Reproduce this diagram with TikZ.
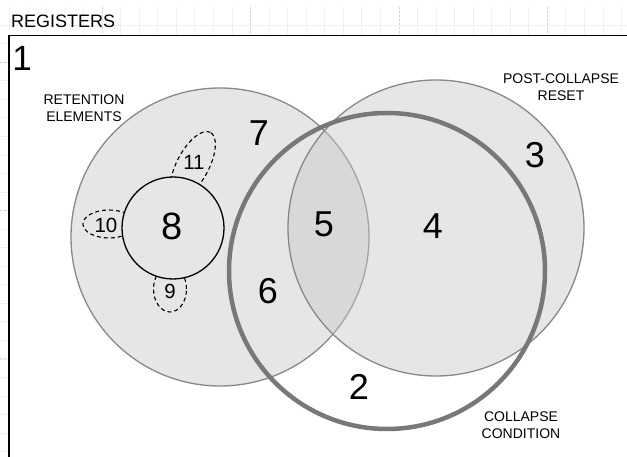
\documentclass[tikz,border=0pt]{standalone}
\usepackage{fontspec}
\setmainfont{Liberation Sans}
\usetikzlibrary{shapes.geometric}
\definecolor{setfill}{RGB}{200,200,200}
\definecolor{setedge}{RGB}{136,136,136}
\definecolor{condedge}{RGB}{120,120,120}
\definecolor{corefill}{RGB}{230,230,230}
\definecolor{gridminor}{RGB}{240,240,240}
\definecolor{gridmajor}{RGB}{212,212,212}
\tikzset{
  setcircle/.style={circle, inner sep=0pt, draw=setedge, line width=1.3pt,
    fill=setfill, fill opacity=0.45, draw opacity=1},
  condcircle/.style={circle, inner sep=0pt, draw=condedge, line width=4.5pt},
  corecircle/.style={circle, inner sep=0pt, draw=black, line width=1.3pt, fill=corefill},
  element/.style={ellipse, inner sep=0pt, draw=black, line width=1.1pt,
    dash pattern=on 4pt off 3pt},
  region/.style={font=\fontsize{36}{40}\selectfont, inner sep=0pt},
  subregion/.style={font=\fontsize{20.5}{23}\selectfont, inner sep=0pt},
  caption/.style={font=\fontsize{14}{16.5}\selectfont, align=center, inner sep=0pt},
}
\begin{document}
\begin{tikzpicture}[x=1pt, y=1pt]
  \useasboundingbox (0,0) rectangle (627,457);
  \clip (0,0) rectangle (627,457);

  % sheet grid
  \foreach \k in {-5,...,28}
    \draw[gridminor, line width=0.6pt] ({102+18.55*\k},0) -- ({102+18.55*\k},450);
  \foreach \k in {0,...,24}
    \draw[gridminor, line width=0.6pt] (0,{432-18.55*\k}) -- (627,{432-18.55*\k});
  \foreach \k in {0,...,3}
    \draw[gridmajor, line width=0.6pt, dash pattern=on 2pt off 2pt]
      ({102+148.4*\k},0) -- ({102+148.4*\k},450);
  \foreach \k in {0,...,2}
    \draw[gridmajor, line width=0.6pt, dash pattern=on 2pt off 2pt]
      (0,{395-148.4*\k}) -- (627,{395-148.4*\k});

  % register frame
  \node[draw=black, line width=1.5pt, fill=white, inner sep=0pt, anchor=north west,
        minimum width=640pt, minimum height=440pt] (frame) at (8,422) {};
  \node[anchor=west, font=\fontsize{18}{20}\selectfont, inner sep=0pt] (registers) at (11,436) {REGISTERS};
  \node[font=\fontsize{35}{40}\selectfont, inner sep=0pt] (r1) at (22,399) {1};

  % the two filled sets
  \node[setcircle, minimum size=298pt] (retention) at (220,220) {};
  \node[setcircle, minimum size=296pt] (reset) at (436,229) {};

  % retention elements around the core
  \node[element, minimum width=74pt, minimum height=32pt, rotate=62] (e11) at (193,292) {};
  \node[element, minimum width=52pt, minimum height=28pt] (e10) at (109,233) {};
  \node[element, minimum width=33pt, minimum height=46pt] (e9) at (170,168) {};
  \node[corecircle, minimum size=102pt] (core) at (173,229) {};

  % collapse condition
  \node[condcircle, minimum size=316pt] (condition) at (387,186) {};

  % region numbers
  \node[region] (r7) at (259,324) {7};
  \node[region] (r3) at (535,302) {3};
  \node[region] (r5) at (324,233) {5};
  \node[region] (r4) at (433,231) {4};
  \node[region] (r6) at (268,166) {6};
  \node[region] (r2) at (359,70) {2};
  \node[region, font=\fontsize{38}{42}\selectfont] (r8) at (172,231) {8};
  \node[subregion] (r11) at (194,295) {11};
  \node[subregion] (r10) at (106,232) {10};
  \node[subregion] (r9) at (170,166) {9};

  % set captions
  \node[caption] (capretention) at (84,349) {RETENTION\\ELEMENTS};
  \node[caption] (capreset) at (561,370) {POST-COLLAPSE\\RESET};
  \node[caption] (capcondition) at (521,32) {COLLAPSE\\CONDITION};
\end{tikzpicture}
\end{document}
